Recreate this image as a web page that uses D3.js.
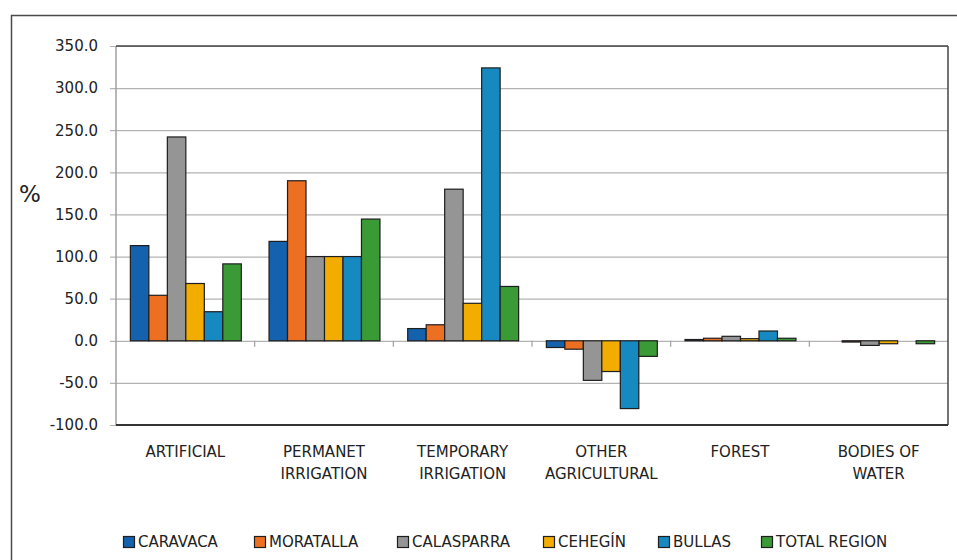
<!DOCTYPE html>
<html>
<head>
<meta charset="utf-8">
<script src="https://cdn.jsdelivr.net/npm/d3@7"></script>
<style>
html,body{margin:0;padding:0;background:#fff;}
svg{display:block;font-family:"DejaVu Sans",Verdana,sans-serif;}
</style>
</head>
<body>
<svg id="chart" width="957" height="560"></svg>
<script>
const categories = [["ARTIFICIAL"],["PERMANET","IRRIGATION"],["TEMPORARY","IRRIGATION"],["OTHER","AGRICULTURAL"],["FOREST"],["BODIES OF","WATER"]];
const seriesNames = ["CARAVACA","MORATALLA","CALASPARRA","CEHEGÍN","BULLAS","TOTAL REGION"];
const caravaca   = [113, 118, 14.5, -8, 1.5, 0];
const moratalla  = [54, 190, 19, -10, 3, -1.5];
const calasparra = [242, 100, 180, -47, 5.3, -5.5];
const cehegin    = [68, 100, 44.5, -36.5, 2.5, -3.5];
const bullas     = [34.5, 100, 324, -80.5, 11.6, 0];
const totalRegion= [91.3, 144.5, 64.5, -18.5, 3, -3.5];
const yTicks = [-100, -50, 0, 50, 100, 150, 200, 250, 300, 350];
const colors = ["#1461ae","#ec6f22","#959595","#f2ad00","#1589c0","#3a9a36"];

const seriesValues = [caravaca, moratalla, calasparra, cehegin, bullas, totalRegion];
const svg = d3.select("#chart");
const L = 116, R = 948, T = 46, B = 425;

// outer frame
svg.append("path").attr("d","M11.5,560 L11.5,15.5 L957,15.5")
  .attr("fill","none").attr("stroke","#4a4a4a").attr("stroke-width",1.5);

const x0 = d3.scaleBand().domain(d3.range(categories.length)).range([L, R]).paddingInner(0.2).paddingOuter(0.1);
const x1 = d3.scaleBand().domain(d3.range(seriesNames.length)).range([0, x0.bandwidth()]).padding(0);
const y = d3.scaleLinear().domain([-100, 350]).range([B, T]);

// gridlines + y ticks
const yAxis = d3.axisLeft(y).tickValues(yTicks).tickSize(-(R - L)).tickPadding(18)
  .tickFormat(d => d.toFixed(1));
const gy = svg.append("g").attr("transform", `translate(${L},0)`).call(yAxis);
gy.select(".domain").remove();
gy.selectAll(".tick line").attr("stroke","#b3b3b3").attr("stroke-width",1.2).attr("x1",-6);
gy.selectAll(".tick text").attr("fill","#222").attr("font-size",15).attr("font-family","DejaVu Sans, Verdana, sans-serif");

// plot borders
svg.append("line").attr("x1",L).attr("x2",L).attr("y1",T).attr("y2",B).attr("stroke","#a0a0a0").attr("stroke-width",1.5);
svg.append("line").attr("x1",L).attr("x2",R).attr("y1",T).attr("y2",T).attr("stroke","#444").attr("stroke-width",1.5);
svg.append("line").attr("x1",R).attr("x2",R).attr("y1",T).attr("y2",B).attr("stroke","#444").attr("stroke-width",1.5);
svg.append("line").attr("x1",L).attr("x2",R).attr("y1",B).attr("y2",B).attr("stroke","#333").attr("stroke-width",2);

// category ticks at band boundaries on zero line
const step = x0.step();
const x0start = x0.range()[0];
const bounds = d3.range(1, categories.length);
svg.append("g").selectAll("line").data(bounds).join("line")
  .attr("x1", i => x0start + i * step).attr("x2", i => x0start + i * step)
  .attr("y1", y(0)).attr("y2", y(0) + 6)
  .attr("stroke","#a0a0a0").attr("stroke-width",1.2);

// bars
const groups = svg.append("g").selectAll("g").data(categories.map((c, i) => i)).join("g")
  .attr("transform", i => `translate(${x0(i)},0)`);
groups.selectAll("rect").data(i => seriesValues.map((s, k) => ({k, v: s[i]}))).join("rect")
  .attr("x", d => x1(d.k) + 0.5)
  .attr("width", x1.bandwidth())
  .attr("y", d => Math.min(y(d.v), y(0)))
  .attr("height", d => Math.abs(y(d.v) - y(0)))
  .attr("fill", d => colors[d.k])
  .attr("stroke","#1e1e1e").attr("stroke-width",1.2);

// category labels
const lab = svg.append("g").selectAll("text").data(categories.map((c, i) => ({c, i}))).join("text")
  .attr("x", d => x0(d.i) + x0.bandwidth() / 2)
  .attr("y", 457)
  .attr("text-anchor","middle").attr("font-size",15).attr("fill","#222");
lab.selectAll("tspan").data(d => d.c).join("tspan")
  .attr("x", function(){ return d3.select(this.parentNode).attr("x"); })
  .attr("dy", (d, j) => j === 0 ? 0 : 22)
  .text(d => d);

// % label
svg.append("text").attr("x", 30).attr("y", 202).attr("text-anchor","middle")
  .attr("font-size",23).attr("fill","#222").text("%");

// legend
const legendX = [123, 254, 397, 543, 658, 761];
const lg = svg.append("g").selectAll("g").data(seriesNames.map((n, k) => ({n, k}))).join("g")
  .attr("transform", d => `translate(${legendX[d.k]},536)`);
lg.append("rect").attr("x",0.5).attr("y",0.5).attr("width",11).attr("height",11)
  .attr("fill", d => colors[d.k]).attr("stroke","#1e1e1e").attr("stroke-width",1.2);
lg.append("text").attr("x",15).attr("y",11).attr("font-size",15).attr("fill","#222").text(d => d.n);
</script>
</body>
</html>
